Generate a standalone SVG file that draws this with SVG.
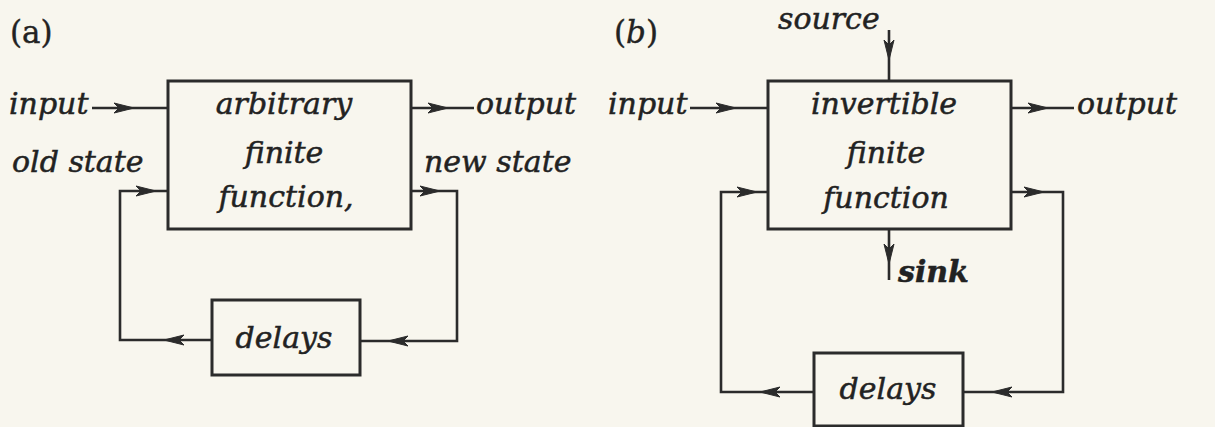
<svg xmlns="http://www.w3.org/2000/svg" xmlns:xlink="http://www.w3.org/1999/xlink" width="1215" height="427" viewBox="0 0 1215 427">
<style>
.bg{fill:#f8f6ee}
.box{fill:none;stroke:#2b2b2b;stroke-width:3}
.ln{fill:none;stroke:#2b2b2b;stroke-width:2.6}
.t{font-family:"DejaVu Serif","Liberation Serif",serif;font-style:italic;font-size:30px;fill:#222;stroke:#222;stroke-width:0.5}
.c{text-anchor:middle}
.lab{font-family:"DejaVu Serif","Liberation Serif",serif;font-size:31px;fill:#222;stroke:#222;stroke-width:0.4}
</style>
<defs>
<polygon id="ah" points="0,0 -20,-5 -15,0 -20,5" fill="#2b2b2b" stroke="#2b2b2b" stroke-width="1"/>
</defs>
<rect class="bg" x="0" y="0" width="1215" height="427"/>

<text class="lab" x="10" y="43">(a)</text>
<text class="lab" x="614" y="43"><tspan>(</tspan><tspan font-style="italic">b</tspan><tspan>)</tspan></text>

<g id="connectors">
  <!-- (a) -->
  <path class="ln" d="M92,108 H168"/>
  <use xlink:href="#ah" transform="translate(134,108)"/>
  <path class="ln" d="M411,108 H474"/>
  <use xlink:href="#ah" transform="translate(448,108)"/>
  <path class="ln" d="M168,191 H120 V340 H212"/>
  <use xlink:href="#ah" transform="translate(156,191)"/>
  <use xlink:href="#ah" transform="translate(164,340) rotate(180)"/>
  <path class="ln" d="M411,191 H457 V341 H360"/>
  <use xlink:href="#ah" transform="translate(440,191)"/>
  <use xlink:href="#ah" transform="translate(388,341) rotate(180)"/>
  <!-- (b) -->
  <path class="ln" d="M889,30 V81"/>
  <use xlink:href="#ah" transform="translate(889,60) rotate(90)"/>
  <path class="ln" d="M690,108 H768"/>
  <use xlink:href="#ah" transform="translate(736,108)"/>
  <path class="ln" d="M1011,108 H1074"/>
  <use xlink:href="#ah" transform="translate(1048,108)"/>
  <path class="ln" d="M768,192 H721 V392 H814"/>
  <use xlink:href="#ah" transform="translate(757,192)"/>
  <use xlink:href="#ah" transform="translate(760,392) rotate(180)"/>
  <path class="ln" d="M1011,192 H1063 V392 H963"/>
  <use xlink:href="#ah" transform="translate(1044,192)"/>
  <use xlink:href="#ah" transform="translate(992,392) rotate(180)"/>
  <path class="ln" d="M889,229 V280"/>
  <use xlink:href="#ah" transform="translate(889,264) rotate(90)"/>
</g>

<g id="input-a"><text class="t" x="9" y="114">input</text></g>
<g id="output-a"><text class="t" x="476" y="114">output</text></g>
<g id="oldstate-a"><text class="t" x="12" y="172" font-size="31">old state</text></g>
<g id="newstate-a"><text class="t" x="424" y="172" font-size="31">new state</text></g>

<g id="func-a">
  <rect class="box" x="168" y="81" width="243" height="148"/>
  <text class="t c" x="284" y="114">arbitrary</text>
  <text class="t c" x="284" y="163">finite</text>
  <text class="t c" x="286" y="207">function,</text>
</g>

<g id="delays-a">
  <rect class="box" x="212" y="300" width="148" height="75"/>
  <text class="t c" x="284" y="348">delays</text>
</g>

<g id="source-b"><text class="t" x="778" y="29" font-size="28">source</text></g>
<g id="input-b"><text class="t" x="608" y="114">input</text></g>
<g id="output-b"><text class="t" x="1077" y="114">output</text></g>

<g id="func-b">
  <rect class="box" x="768" y="81" width="243" height="148"/>
  <text class="t c" x="884" y="114">invertible</text>
  <text class="t c" x="886" y="163">finite</text>
  <text class="t c" x="886" y="208">function</text>
</g>

<g id="sink-b"><text class="t" x="898" y="282" font-weight="bold" font-size="27">sink</text></g>

<g id="delays-b">
  <rect class="box" x="814" y="353" width="149" height="73"/>
  <text class="t c" x="888" y="399">delays</text>
</g>
</svg>
